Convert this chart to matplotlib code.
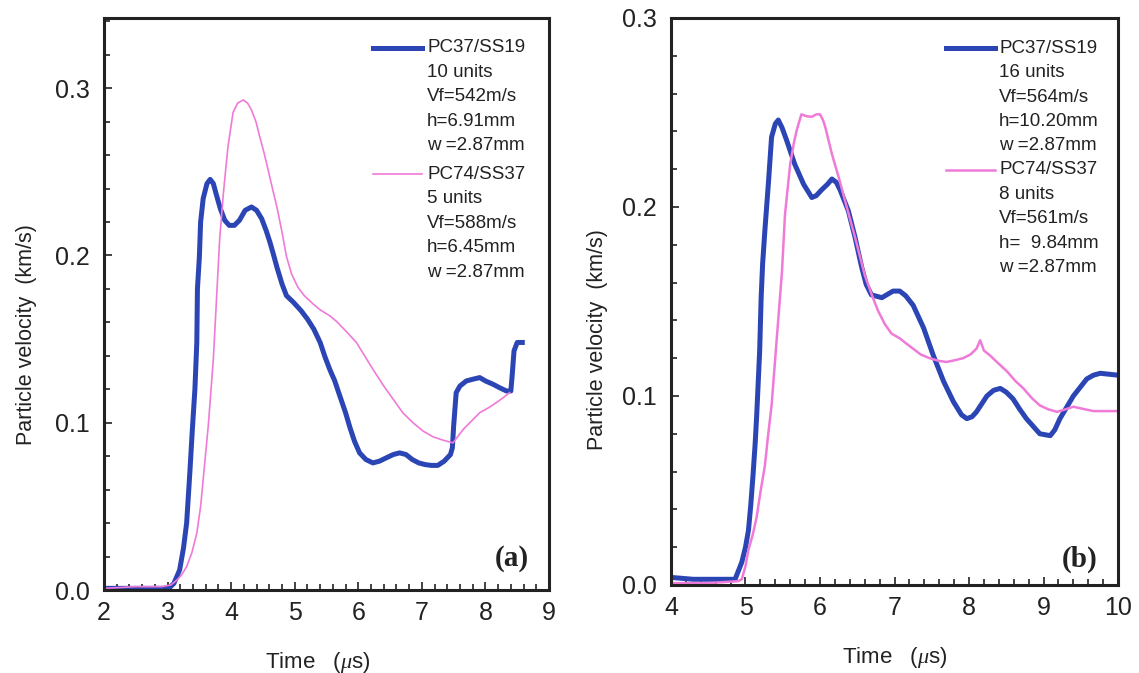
import numpy as np
import matplotlib
matplotlib.use('Agg')
import matplotlib.pyplot as plt
from matplotlib.ticker import MultipleLocator

plt.rcParams['font.family'] = ['Liberation Sans', 'DejaVu Sans']
plt.rcParams['mathtext.fontset'] = 'custom'
plt.rcParams['mathtext.it'] = 'Liberation Serif:italic'

BLUE = '#2b46b4'
PINK = '#f07ad8'

# ---- panel (a) ----
a_blue_t = [2.0, 2.5, 2.9, 3.02, 3.10, 3.19, 3.25, 3.30, 3.35, 3.39, 3.43, 3.46, 3.47, 3.50,
            3.52, 3.56, 3.62, 3.67, 3.72, 3.77, 3.83, 3.90, 3.97, 4.05, 4.13, 4.22, 4.32, 4.40,
            4.48, 4.55, 4.61, 4.67, 4.72, 4.80, 4.87, 4.98, 5.10, 5.20, 5.30, 5.40, 5.48, 5.55,
            5.63, 5.71, 5.80, 5.87, 5.94, 6.02, 6.12, 6.23, 6.33, 6.44, 6.55, 6.65, 6.75, 6.85,
            6.95, 7.05, 7.15, 7.25, 7.35, 7.45, 7.48, 7.50, 7.54, 7.60, 7.70, 7.80, 7.91, 8.00,
            8.12, 8.22, 8.33, 8.40, 8.42, 8.45, 8.50, 8.58]
a_blue_v = [0.001, 0.001, 0.001, 0.001, 0.004, 0.012, 0.025, 0.040, 0.070, 0.096, 0.120, 0.148,
            0.180, 0.199, 0.220, 0.234, 0.243, 0.2455, 0.243, 0.236, 0.228, 0.221, 0.218, 0.218,
            0.221, 0.227, 0.229, 0.227, 0.222, 0.215, 0.208, 0.200, 0.193, 0.183, 0.176, 0.172,
            0.167, 0.162, 0.156, 0.148, 0.139, 0.132, 0.125, 0.116, 0.106, 0.097, 0.089, 0.082,
            0.078, 0.076, 0.077, 0.079, 0.081, 0.082, 0.081, 0.078, 0.076, 0.075, 0.0745, 0.0745,
            0.077, 0.081, 0.085, 0.098, 0.118, 0.122, 0.125, 0.126, 0.127, 0.125, 0.123, 0.121,
            0.119, 0.119, 0.128, 0.143, 0.148, 0.148]

a_pink_t = [2.0, 2.5, 2.9, 3.05, 3.15, 3.22, 3.30, 3.38, 3.46, 3.52, 3.56, 3.60, 3.64, 3.68,
            3.72, 3.77, 3.82, 3.88, 3.95, 4.03, 4.10, 4.19, 4.26, 4.32, 4.39, 4.45, 4.52, 4.58,
            4.65, 4.72, 4.80, 4.87, 4.95, 5.05, 5.15, 5.29, 5.40, 5.55, 5.66, 5.80, 5.97, 6.10,
            6.23, 6.40, 6.55, 6.70, 6.86, 7.02, 7.18, 7.30, 7.39, 7.49, 7.57, 7.65, 7.78, 7.91,
            8.05, 8.17, 8.28, 8.38]
a_pink_v = [0.001, 0.002, 0.002, 0.003, 0.006, 0.009, 0.014, 0.022, 0.034, 0.050, 0.066, 0.082,
            0.098, 0.118, 0.138, 0.174, 0.210, 0.238, 0.265, 0.2855, 0.291, 0.293, 0.291, 0.287,
            0.280, 0.271, 0.261, 0.2515, 0.240, 0.229, 0.214, 0.1995, 0.189, 0.181, 0.176, 0.171,
            0.1675, 0.164, 0.1605, 0.155, 0.148, 0.140, 0.132, 0.122, 0.114, 0.106, 0.100, 0.095,
            0.0915, 0.090, 0.089, 0.088, 0.092, 0.096, 0.101, 0.106, 0.109, 0.112, 0.115, 0.118]

# ---- panel (b) ----
b_blue_t = [4.0, 4.3, 4.6, 4.86, 4.95, 5.00, 5.04, 5.07, 5.10, 5.13, 5.15, 5.19, 5.21, 5.23,
            5.26, 5.31, 5.35, 5.40, 5.44, 5.49, 5.55, 5.66, 5.78, 5.89, 5.95, 6.02, 6.10, 6.16,
            6.22, 6.27, 6.32, 6.38, 6.47, 6.56, 6.62, 6.69, 6.83, 6.98, 7.07, 7.15, 7.25, 7.32,
            7.39, 7.52, 7.66, 7.79, 7.90, 7.97, 8.04, 8.10, 8.24, 8.33, 8.42, 8.50, 8.59, 8.68,
            8.77, 8.86, 8.95, 9.09, 9.15, 9.22, 9.31, 9.40, 9.50, 9.58, 9.67, 9.76, 9.88, 10.0]
b_blue_v = [0.004, 0.003, 0.003, 0.003, 0.012, 0.020, 0.029, 0.042, 0.0575, 0.075, 0.0895,
            0.1236, 0.152, 0.170, 0.1875, 0.214, 0.237, 0.244, 0.246, 0.242, 0.2355, 0.2227,
            0.212, 0.205, 0.206, 0.209, 0.212, 0.2148, 0.213, 0.209, 0.204, 0.198, 0.184, 0.168,
            0.159, 0.1535, 0.152, 0.1555, 0.1555, 0.153, 0.148, 0.142, 0.136, 0.1215, 0.1076,
            0.097, 0.090, 0.088, 0.089, 0.0916, 0.100, 0.103, 0.104, 0.102, 0.0985, 0.093, 0.088,
            0.084, 0.080, 0.079, 0.082, 0.088, 0.094, 0.100, 0.105, 0.109, 0.111, 0.112, 0.1115,
            0.111]

b_pink_t = [4.0, 4.5, 4.9, 4.95, 5.00, 5.04, 5.10, 5.15, 5.20, 5.26, 5.30, 5.35, 5.42, 5.49,
            5.53, 5.60, 5.65, 5.69, 5.75, 5.82, 5.89, 5.95, 6.00, 6.04, 6.07, 6.16, 6.25, 6.36,
            6.47, 6.60, 6.70, 6.78, 6.87, 6.96, 7.07, 7.15, 7.25, 7.35, 7.47, 7.60, 7.70, 7.82,
            7.92, 8.02, 8.10, 8.15, 8.20, 8.28, 8.40, 8.51, 8.62, 8.73, 8.84, 8.95, 9.06, 9.18,
            9.30, 9.40, 9.55, 9.67, 9.80, 10.0]
b_pink_v = [0.001, 0.001, 0.002, 0.003, 0.010, 0.0186, 0.027, 0.036, 0.049, 0.063, 0.078, 0.095,
            0.1305, 0.166, 0.196, 0.2227, 0.234, 0.241, 0.249, 0.248, 0.2477, 0.249, 0.249, 0.246,
            0.2424, 0.228, 0.2158, 0.1998, 0.184, 0.164, 0.153, 0.145, 0.138, 0.133, 0.1305,
            0.128, 0.125, 0.122, 0.120, 0.1185, 0.118, 0.119, 0.120, 0.122, 0.125, 0.1295, 0.124,
            0.1215, 0.117, 0.113, 0.108, 0.104, 0.099, 0.095, 0.093, 0.0916, 0.093, 0.0943,
            0.093, 0.092, 0.092, 0.092]

a_blue_label = ['PC37/SS19', '10 units', 'Vf=542m/s', 'h=6.91mm', 'w =2.87mm']
a_pink_label = ['PC74/SS37', '5 units', 'Vf=588m/s', 'h=6.45mm', 'w =2.87mm']
b_blue_label = ['PC37/SS19', '16 units', 'Vf=564m/s', 'h=10.20mm', 'w =2.87mm']
b_pink_label = ['PC74/SS37', '8 units', 'Vf=561m/s', 'h=  9.84mm', 'w =2.87mm']


def style_axes(ax, xlim, ylim):
    ax.set_xlim(*xlim)
    ax.set_ylim(*ylim)
    ax.xaxis.set_major_locator(MultipleLocator(1))
    ax.xaxis.set_minor_locator(MultipleLocator(0.2))
    ax.yaxis.set_major_locator(MultipleLocator(0.1))
    ax.yaxis.set_minor_locator(MultipleLocator(0.02))
    ax.yaxis.set_major_formatter(plt.FormatStrFormatter('%.1f'))
    ax.tick_params(which='both', direction='in', colors='#222222', width=1.2)
    ax.tick_params(which='major', length=6, labelsize=18)
    ax.tick_params(axis='y', which='major', pad=10)
    ax.tick_params(axis='x', which='major', pad=8)
    ax.tick_params(which='minor', length=4)
    for s in ax.spines.values():
        s.set_linewidth(2.2)
        s.set_color('#222222')
    ax.set_xlabel('Time   ($\\mu$s)', fontsize=16, color='#222222')
    ax.set_ylabel('Particle velocity  (km/s)', fontsize=15.5, color='#222222')


def legend_block(ax, x_line, x_text, y0, dy, lines, color, lw):
    ax.plot(x_line, [y0, y0], color=color, lw=lw, transform=ax.transAxes, clip_on=False)
    for i, s in enumerate(lines):
        ax.text(x_text, y0 - i * dy, s, transform=ax.transAxes, fontsize=13.5,
                va='center', ha='left', color='#222222')


fig = plt.figure(figsize=(11.39, 6.73), dpi=100)

ax1 = fig.add_axes([0.0913, 0.1233, 0.3907, 0.8500])
ax1.plot(a_blue_t, a_blue_v, color=BLUE, lw=3.6, solid_joinstyle='round')
ax1.plot(a_pink_t, a_pink_v, color=PINK, lw=1.2)
style_axes(ax1, (2, 9), (0, 0.342))
ax1.yaxis.set_label_coords(-0.151, 0.446)
ax1.xaxis.set_label_coords(0.48, -0.105)
legend_block(ax1, [0.604, 0.715], 0.726, 0.9476, 0.0428, a_blue_label, BLUE, 3.6)
legend_block(ax1, [0.604, 0.715], 0.726, 0.727, 0.0428, a_pink_label, PINK, 1.2)
ax1.text(0.955, 0.055, '(a)', transform=ax1.transAxes, ha='right', va='center',
         fontsize=21, fontweight='bold', family='Liberation Serif', color='#222222')

ax2 = fig.add_axes([0.5891, 0.1308, 0.3925, 0.8425])
ax2.plot(b_blue_t, b_blue_v, color=BLUE, lw=3.6, solid_joinstyle='round')
ax2.plot(b_pink_t, b_pink_v, color=PINK, lw=1.8)
style_axes(ax2, (4, 10), (0, 0.3))
ax2.yaxis.set_label_coords(-0.141, 0.432)
ax2.xaxis.set_label_coords(0.5, -0.105)
legend_block(ax2, [0.615, 0.725], 0.734, 0.947, 0.0432, b_blue_label, BLUE, 3.6)
legend_block(ax2, [0.615, 0.725], 0.734, 0.732, 0.0432, b_pink_label, PINK, 1.8)
ax2.text(0.955, 0.045, '(b)', transform=ax2.transAxes, ha='right', va='center',
         fontsize=21, fontweight='bold', family='Liberation Serif', color='#222222')

fig.savefig('out.png', dpi=100)
